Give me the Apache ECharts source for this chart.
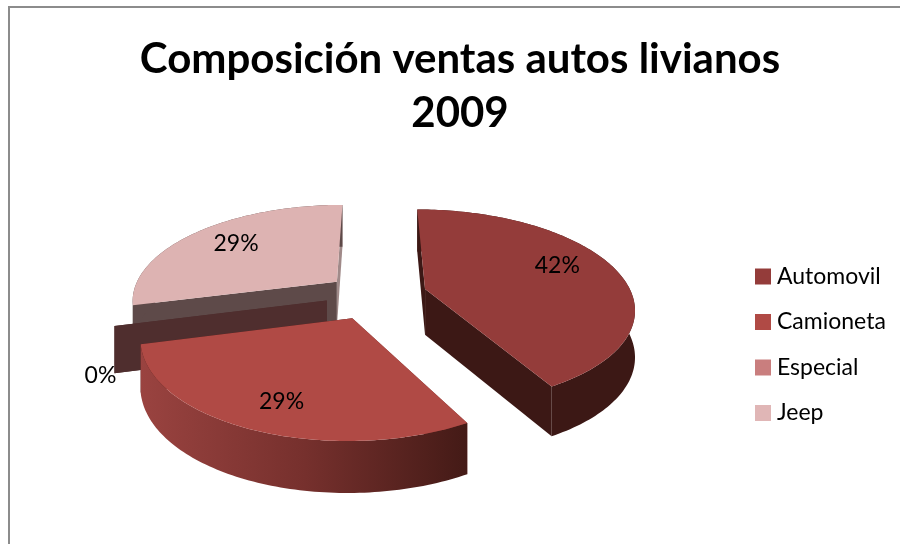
<!DOCTYPE html>
<html><head><meta charset="utf-8">
<style>html,body{margin:0;padding:0;background:#fff}#c{width:900px;height:544px}</style>
<script src="https://cdn.jsdelivr.net/npm/echarts@6/dist/echarts.min.js"></script>
</head><body><div id="c"></div>
<script>
const categories = ['Automovil','Camioneta','Especial','Jeep'];
const values = [42,29,0,29];
const titleText = 'Composición ventas autos livianos\n2009';
const topColors = ['#943C3A','#B04A45','#C97E7E','#DDB3B2'];
const legendColors = ['#943C3A','#B04A45','#C97E7E','#E0B6B6'];

// view of the tilted, exploded disc
const view = {cx:374, cy:295, R:205, K:95, p:0.18, depth:46};
const explode = [0.26,0.255,0.235,0.235];
const rimScale = [1.01,0.97,1,1];
const startWall = ['#3C1815','#7b322f','#4F2E2E','#5E4A49'];
const endWall   = ['#3C1815','#461B18','#4F2E2E','#A08A89'];
const outerWall = ['#3C1815',null,'#4F2E2E','#5E4A49'];
const labelRho = [0.78,0.77,1,0.75];
const labelShift = [[-14,-6],[8,-1],[-14,50],[6,0]];
const drawOrder = [3,2,1,0];

const total = values.reduce((a,b)=>a+b,0);
const spans = []; let acc = 0;
values.forEach(v=>{const s=acc/total*2*Math.PI; acc+=v; spans.push([s,acc/total*2*Math.PI]);});

function proj(u,v,drop){
  const f = 1/(1+view.p*v);
  return [view.cx+view.R*u*f, view.cy-view.K*v*f+(drop?view.depth*Math.sqrt(f):0)];
}
function geom(i){
  const [a,b]=spans[i], mid=(a+b)/2;
  const au=explode[i]*Math.sin(mid), av=explode[i]*Math.cos(mid);
  const s=rimScale[i];
  const rim=t=>[au+s*Math.sin(t),av+s*Math.cos(t)];
  return {a,b,mid,au,av,rim};
}
function arc(g,drop,rev){
  const n=Math.max(1,Math.ceil((g.b-g.a)/0.02)), pts=[];
  for(let k=0;k<=n;k++){const t=g.a+(g.b-g.a)*k/n,r=g.rim(t);pts.push(proj(r[0],r[1],drop));}
  return rev?pts.reverse():pts;
}
function radial(g,t,color){
  const r=g.rim(t);
  return {type:'polygon',shape:{points:[proj(g.au,g.av,false),proj(r[0],r[1],false),proj(r[0],r[1],true),proj(g.au,g.av,true)]},style:{fill:color}};
}
function renderSlice(i){
  const g=geom(i), ch=[];
  ch.push(radial(g,g.a,startWall[i]));
  ch.push(radial(g,g.b,endWall[i]));
  if(g.b>g.a){
    const fill = outerWall[i] || new echarts.graphic.LinearGradient(140,0,470,0,[
      {offset:0,color:'#9A4340'},{offset:0.5,color:'#76302D'},{offset:1,color:'#431A16'}],true);
    ch.push({type:'polygon',shape:{points:arc(g,false,false).concat(arc(g,true,true))},style:{fill}});
    ch.push({type:'polygon',shape:{points:[proj(g.au,g.av,false)].concat(arc(g,false,false))},style:{fill:topColors[i]}});
  }
  const lr=labelRho[i];
  const lp=proj(g.au+lr*Math.sin(g.mid),g.av+lr*Math.cos(g.mid),false);
  ch.push({type:'text',z2:10,x:lp[0]+labelShift[i][0],y:lp[1]+labelShift[i][1],
    style:{text:Math.round(values[i]/total*100)+'%',fill:'#000',font:'23px Lato',align:'center',verticalAlign:'middle'}});
  return {type:'group',children:ch};
}
const chart = echarts.init(document.getElementById('c'),null,{renderer:'canvas'});
chart.setOption({
  animation:false,
  backgroundColor:'#fff',
  title:{text:titleText,left:455,top:27,textAlign:'center',
    textStyle:{fontFamily:'Lato',fontWeight:'bold',fontSize:42,lineHeight:54,color:'#000'}},
  legend:{orient:'vertical',left:750,top:260,itemWidth:16,itemHeight:16,itemGap:22.5,icon:'rect',
    data:categories,selectedMode:false,textStyle:{fontFamily:'Lato',fontSize:23,color:'#000',padding:[0,0,0,1]}},
  graphic:[{type:'polyline',silent:true,shape:{points:[[9,544],[9,7],[900,7]]},style:{stroke:'#8c8c8c',lineWidth:2,fill:null}}],
  series:drawOrder.map(i=>({
    type:'custom',name:categories[i],coordinateSystem:'none',silent:true,
    itemStyle:{color:legendColors[i]},
    data:[[values[i]]],
    renderItem:()=>renderSlice(i)
  }))
});
</script></body></html>
